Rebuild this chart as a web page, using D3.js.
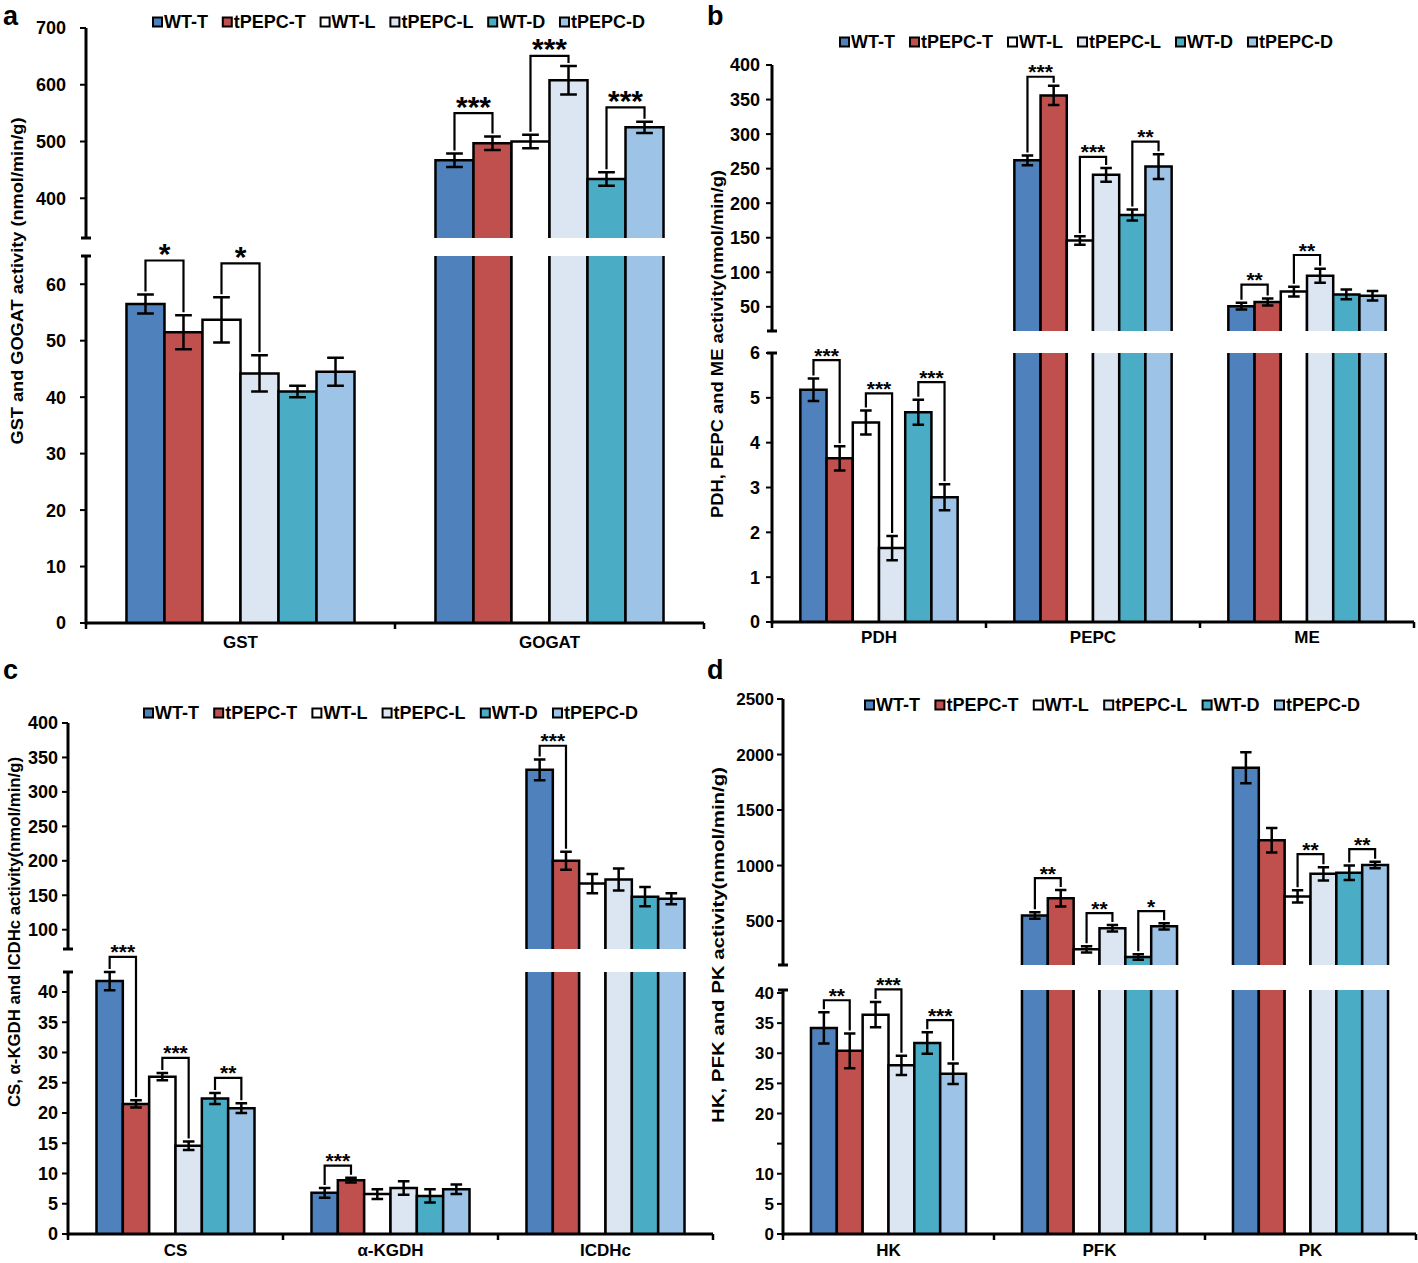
<!DOCTYPE html>
<html>
<head>
<meta charset="utf-8">
<script src="https://cdn.jsdelivr.net/npm/d3@7"></script>
<style>
  body { margin: 0; background: #fff; }
  svg { display: block; }
  text { font-family: "Liberation Sans", Arial, sans-serif; font-weight: bold; fill: #000; }
</style>
</head>
<body>
<svg id="chart" width="1418" height="1263"></svg>
<script>
// series (same six lines in every panel)
const groups = ["WT-T", "tPEPC-T", "WT-L", "tPEPC-L", "WT-D", "tPEPC-D"];
const colors = ["#4f81bd", "#c0504d", "#ffffff", "#dce6f2", "#4bacc6", "#9dc3e6"];

// panel a
const catsA = ["GST", "GOGAT"];
const meanA = [[56.5, 51.5, 53.7, 44.2, 41.0, 44.5], [467, 497, 500, 608, 434, 525]];
const errA  = [[1.7, 3.0, 4.0, 3.2, 1.0, 2.5], [12, 12, 12, 25, 12, 10]];
const sigA  = [[0, 0, 1, 64.2, "*"], [0, 2, 3, 63.7, "*"], [1, 0, 1, 550, "***"], [1, 2, 3, 651, "***"], [1, 4, 5, 560, "***"]];

// panel b
const catsB = ["PDH", "PEPC", "ME"];
const meanB = [[5.18, 3.65, 4.45, 1.65, 4.68, 2.78], [262, 356, 146, 241, 183, 253], [51, 57, 72, 95, 68, 66]];
const errB  = [[0.25, 0.27, 0.27, 0.27, 0.28, 0.29], [7, 14, 6, 10, 8, 18], [5, 5, 7, 10, 7, 7]];
const sigB  = [[0, 0, 1, 5.84, "***"], [0, 2, 3, 5.1, "***"], [0, 4, 5, 5.35, "***"], [1, 0, 1, 383, "***"],
               [1, 2, 3, 267, "***"], [1, 4, 5, 289, "**"], [2, 0, 1, 82, "**"], [2, 2, 3, 125, "**"]];

// panel c
const catsC = ["CS", "α-KGDH", "ICDHc"];
const meanC = [[41.8, 21.5, 26.0, 14.6, 22.4, 20.8], [6.8, 8.9, 6.6, 7.6, 6.3, 7.4], [332, 200, 167, 173, 148, 145]];
const errC  = [[1.5, 0.6, 0.6, 0.7, 0.9, 0.8], [0.8, 0.4, 0.8, 1.1, 1.1, 0.8], [15, 13, 14, 16, 14, 8]];
const sigC  = [[0, 0, 1, 45.8, "***"], [0, 2, 3, 29.1, "***"], [0, 4, 5, 25.8, "**"], [1, 0, 1, 11.3, "***"], [2, 0, 1, 367, "***"]];

// panel d
const catsD = ["HK", "PFK", "PK"];
const meanD = [[34.2, 30.4, 36.4, 28.0, 31.7, 26.6], [550, 705, 245, 435, 176, 452], [1880, 1228, 722, 925, 935, 1005]];
const errD  = [[2.6, 2.9, 2.1, 1.6, 1.8, 1.7], [30, 75, 28, 30, 25, 28], [140, 110, 55, 60, 65, 30]];
const sigD  = [[0, 0, 1, 38.8, "**"], [0, 2, 3, 40.6, "***"], [0, 4, 5, 35.5, "***"], [1, 0, 1, 887, "**"],
               [1, 2, 3, 572, "**"], [1, 4, 5, 590, "*"], [2, 2, 3, 1103, "**"], [2, 4, 5, 1147, "**"]];

// tick values of the broken axes
const lowTicksA = [0, 10, 20, 30, 40, 50, 60], upTicksA = [400, 500, 600, 700];
const lowTicksB = [0, 1, 2, 3, 4, 5, 6], upTicksB = [50, 100, 150, 200, 250, 300, 350, 400];
const lowTicksC = [0, 5, 10, 15, 20, 25, 30, 35, 40], upTicksC = [100, 150, 200, 250, 300, 350, 400];
const lowTicksD = [0, 5, 10, 15, 20, 25, 30, 35, 40], upTicksD = [500, 1000, 1500, 2000, 2500];

const svg = d3.select("#chart");

/**
 * Draws one panel with a broken y axis (lower and upper segment)
 */
function drawPanel(p) {
  const g = svg.append("g");

  const x = d3.scaleBand().domain(p.cats).range([p.ax, p.x1])
    .paddingInner(1 - p.frac).paddingOuter((1 - p.frac) / 2);
  const xb = d3.scaleBand().domain(groups).range([0, x.bandwidth()]);
  const bw = xb.bandwidth();
  const yLow = d3.scaleLinear().domain(p.low).range([p.y0, p.lowTopY]);
  const yUp = d3.scaleLinear().domain(p.up).range([p.upBotY, p.upTopY]);
  const seg = v => (v <= p.low[1] ? yLow : yUp);

  // bars
  const gBar = g.append("g").attr("stroke", "#000").attr("stroke-width", 2.5);
  p.cats.forEach((c, ci) => {
    groups.forEach((gr, gi) => {
      const v = p.mean[ci][gi];
      const bx = x(c) + xb(gr);
      const lt = Math.min(v, p.low[1]);
      gBar.append("rect").attr("x", bx).attr("y", yLow(lt)).attr("width", bw)
        .attr("height", p.y0 - yLow(lt)).attr("fill", colors[gi]).attr("stroke", "none");
      if (v <= p.low[1]) {
        gBar.append("path").attr("fill", "none")
          .attr("d", `M${bx},${p.y0}V${yLow(v)}H${bx + bw}V${p.y0}`);
      } else {
        gBar.append("path").attr("fill", "none")
          .attr("d", `M${bx},${p.y0}V${p.lowTopY}M${bx + bw},${p.y0}V${p.lowTopY}`);
      }
      if (v > p.up[0]) {
        gBar.append("rect").attr("x", bx).attr("y", yUp(v)).attr("width", bw)
          .attr("height", p.upBotY - yUp(v)).attr("fill", colors[gi]).attr("stroke", "none");
        gBar.append("path").attr("fill", "none")
          .attr("d", `M${bx},${p.upBotY}V${yUp(v)}H${bx + bw}V${p.upBotY}`);
      }
    });
  });

  // error bars
  const gErr = g.append("g").attr("stroke", "#000").attr("stroke-width", 2.5).attr("fill", "none");
  const cap = bw * 0.22;
  p.cats.forEach((c, ci) => {
    groups.forEach((gr, gi) => {
      const v = p.mean[ci][gi], e = p.err[ci][gi];
      const s = seg(v);
      const cx = x(c) + xb(gr) + bw / 2;
      gErr.append("path").attr("d",
        `M${cx},${s(v - e)}V${s(v + e)}M${cx - cap},${s(v + e)}H${cx + cap}M${cx - cap},${s(v - e)}H${cx + cap}`);
    });
  });

  // significance brackets
  const gSig = g.append("g");
  p.sig.forEach(([ci, i, j, top, label]) => {
    const c = p.cats[ci];
    const s = seg(p.mean[ci][i]);
    const xi = x(c) + xb(groups[i]) + bw / 2;
    const xj = x(c) + xb(groups[j]) + bw / 2;
    const yi = s(p.mean[ci][i] + p.err[ci][i]) - 3;
    const yj = s(p.mean[ci][j] + p.err[ci][j]) - 3;
    const yt = s(top);
    gSig.append("path").attr("fill", "none").attr("stroke", "#000").attr("stroke-width", 2.2)
      .attr("d", `M${xi},${yi}V${yt}H${xj}V${yj}`);
    gSig.append("text").attr("x", (xi + xj) / 2).attr("y", yt + p.starFont * 0.12)
      .attr("text-anchor", "middle").attr("font-size", p.starFont).text(label);
  });

  // y axis (two segments)
  const gAx = g.append("g").attr("stroke", "#000").attr("fill", "none");
  gAx.append("line").attr("x1", p.ax).attr("x2", p.ax).attr("y1", p.y0 + 1.5).attr("y2", p.lowTopY).attr("stroke-width", 3);
  gAx.append("line").attr("x1", p.ax).attr("x2", p.ax).attr("y1", p.upBotY).attr("y2", p.upTopY).attr("stroke-width", 3);
  [p.lowTopY, p.upBotY].forEach(yy => {
    gAx.append("line").attr("x1", p.ax - 5).attr("x2", p.ax + 5).attr("y1", yy).attr("y2", yy).attr("stroke-width", 3);
  });
  const ticks = p.lowTicks.map(t => [t, yLow(t)]).concat(p.upTicks.map(t => [t, yUp(t)]));
  ticks.forEach(([t, yy]) => {
    gAx.append("line").attr("x1", p.ax - 6).attr("x2", p.ax).attr("y1", yy).attr("y2", yy).attr("stroke-width", 2);
    if (!(p.hideTick && p.hideTick.includes(t))) {
      g.append("text").attr("x", p.ax - p.tickGap).attr("y", yy).attr("dy", "0.36em")
        .attr("text-anchor", "end").attr("font-size", p.tickFont).text(t);
    }
  });

  // x axis
  gAx.append("line").attr("x1", p.ax).attr("x2", p.x1).attr("y1", p.y0).attr("y2", p.y0).attr("stroke-width", 3);
  const step = x.step();
  d3.range(p.cats.length + 1).forEach(k => {
    const xx = p.ax + k * step;
    gAx.append("line").attr("x1", xx).attr("x2", xx).attr("y1", p.y0).attr("y2", p.y0 + 6).attr("stroke-width", 2.5);
  });
  p.cats.forEach(c => {
    g.append("text").attr("x", x(c) + x.bandwidth() / 2).attr("y", p.catY).attr("dy", "0.36em")
      .attr("text-anchor", "middle").attr("font-size", 17).text(c);
  });

  // y title
  g.append("text").attr("transform", `translate(${p.title[1]},${p.title[2]}) rotate(-90)`)
    .attr("text-anchor", "middle").attr("dy", "0.36em").attr("font-size", 16)
    .attr("textLength", p.title[3]).attr("lengthAdjust", "spacingAndGlyphs").text(p.title[0]);

  // panel letter
  g.append("text").attr("x", p.letter[1]).attr("y", p.letter[2]).attr("font-size", 27).text(p.letter[0]);

  // legend
  const gLeg = g.append("g");
  const items = groups.map((gr, gi) => {
    const it = gLeg.append("g");
    it.append("rect").attr("x", 1).attr("y", -4.5).attr("width", 9).attr("height", 9)
      .attr("fill", colors[gi]).attr("stroke", "#000").attr("stroke-width", 2);
    const t = it.append("text").attr("x", 12).attr("dy", "0.36em").attr("font-size", 18).text(gr);
    return { it, w: 12 + t.node().getComputedTextLength() };
  });
  const total = d3.sum(items, d => d.w);
  const gap = (p.legend[1] - p.legend[0] - total) / (items.length - 1);
  let cx = p.legend[0];
  items.forEach(d => {
    d.it.attr("transform", `translate(${cx},${p.legend[2]})`);
    cx += d.w + gap;
  });
}

drawPanel({
  cats: catsA, mean: meanA, err: errA, sig: sigA, lowTicks: lowTicksA, upTicks: upTicksA,
  ax: 86, x1: 704, y0: 623, low: [0, 65], lowTopY: 256, up: [330, 700], upBotY: 238, upTopY: 28,
  frac: 0.738, tickGap: 20, tickFont: 18, catY: 642, starFont: 30,
  legend: [152, 645, 22], title: ["GST and GOGAT activity (nmol/min/g)", 17, 281, 327], letter: ["a", 3, 25]
});

drawPanel({
  cats: catsB, mean: meanB, err: errB, sig: sigB, lowTicks: lowTicksB, upTicks: upTicksB,
  ax: 772, x1: 1414, y0: 622, low: [0, 6], lowTopY: 353, up: [15, 400], upBotY: 331, upTopY: 65,
  frac: 0.735, tickGap: 12, tickFont: 18, catY: 637, starFont: 21,
  legend: [839, 1333, 42], title: ["PDH, PEPC and ME activity(nmol/min/g)", 717, 344, 348], letter: ["b", 707, 25]
});

drawPanel({
  cats: catsC, mean: meanC, err: errC, sig: sigC, lowTicks: lowTicksC, upTicks: upTicksC,
  ax: 68, x1: 713, y0: 1234, low: [0, 43.3], lowTopY: 972, up: [72, 400], upBotY: 949, upTopY: 723,
  frac: 0.735, tickGap: 10, tickFont: 18, catY: 1250, starFont: 21,
  legend: [143, 638, 713], title: ["CS, α-KGDH and ICDHc activity(nmol/min/g)", 14, 932, 350], letter: ["c", 3, 679]
});

drawPanel({
  cats: catsD, mean: meanD, err: errD, sig: sigD, lowTicks: lowTicksD, upTicks: upTicksD, hideTick: [15],
  ax: 783, x1: 1416, y0: 1234, low: [0, 40.5], lowTopY: 990, up: [104, 2500], upBotY: 965, upTopY: 699,
  frac: 0.735, tickGap: 9, tickFont: 17, catY: 1250, starFont: 21,
  legend: [864, 1360, 705], title: ["HK, PFK and PK activity(nmol/min/g)", 718, 945, 356], letter: ["d", 707, 679]
});
</script>
</body>
</html>
